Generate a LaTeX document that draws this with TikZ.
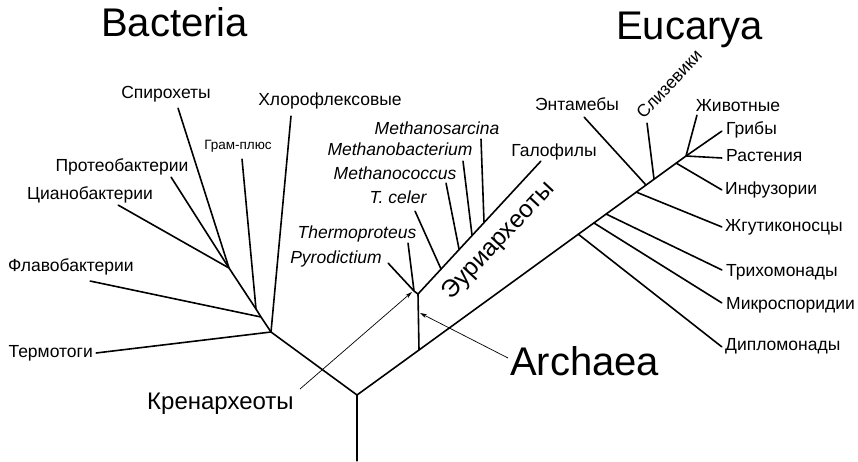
\documentclass[tikz,border=0pt]{standalone}
\usepackage{fontspec}
\setmainfont{Liberation Sans}
\usetikzlibrary{arrows.meta}

\tikzset{%
  every vertex/.style={
    inner sep=0pt,
    minimum size=0pt
  },
  branch/.style={
    line width=1.6pt,
    line cap=round
  },
  taxon/.style={
    font=\fontsize{17.5}{20}\selectfont,
    inner sep=1pt,
    text height=13pt,
    text depth=3.5pt
  },
  species/.style={
    taxon,
    font=\fontsize{17.5}{20}\selectfont\itshape
  },
  kingdom/.style={
    font=\fontsize{40}{44}\selectfont,
    inner sep=0pt,
    anchor=base west
  },
  pointer/.style={
    -{Stealth[length=7pt,width=4pt]},
    line width=0.7pt
  },
}

\begin{document}
\begin{tikzpicture}[x=1pt,y=-1pt]
  \useasboundingbox (0,0) rectangle (858,461);
  % domains
  \node [kingdom] (BACT) at (101,36) {Bacteria};
  \node [kingdom] (EUCA) at (616,39) {Eucarya};
  \node [kingdom] (ARCH) at (510,375) {Archaea};
  \node [kingdom, font=\fontsize{24}{28}\selectfont] (KREN) at (147,409) {Кренархеоты};
  % root
  \node [every vertex] (r-0) at (357,461) {};
  \node [every vertex] (r-1) at (357,395) {};
  % bacteria
  \node [every vertex] (b-1) at (271,332) {};
  \node [every vertex] (b-2) at (261,317) {};
  \node [every vertex] (b-3) at (256,309) {};
  \node [every vertex] (b-4) at (229,268) {};
  \node [every vertex] (b-5) at (96,353) {};
  \node [every vertex] (b-6) at (90,281) {};
  \node [every vertex] (b-7) at (242,159) {};
  \node [every vertex] (b-8) at (291,116) {};
  \node [every vertex] (b-9) at (178,108) {};
  \node [every vertex] (b-10) at (171,177) {};
  \node [every vertex] (b-11) at (118,205) {};
  \node [taxon, anchor=east] (TERMO) at (94,353) {Термотоги};
  \node [taxon] (FLAVO) at (71,267) {Флавобактерии};
  \node [taxon] (CYANO) at (90,195) {Цианобактерии};
  \node [taxon] (PROTEO) at (122,167) {Протеобактерии};
  \node [taxon] (SPIRO) at (166,94) {Спирохеты};
  \node [taxon, font=\fontsize{13.5}{16}\selectfont] (GRAM) at (238,145) {Грам-плюс};
  \node [taxon] (CHLORO) at (330,101) {Хлорофлексовые};
  % archaea
  \node [every vertex] (a-1) at (419,350) {};
  \node [every vertex] (a-2) at (418,294) {};
  \node [every vertex] (a-3) at (414,291) {};
  \node [every vertex] (a-4) at (388,263) {};
  \node [every vertex] (a-5) at (408,243) {};
  \node [every vertex] (a-6) at (441,269) {};
  \node [every vertex] (a-7) at (415,211) {};
  \node [every vertex] (a-8) at (459,249) {};
  \node [every vertex] (a-9) at (446,183) {};
  \node [every vertex] (a-10) at (472,235) {};
  \node [every vertex] (a-11) at (463,161) {};
  \node [every vertex] (a-12) at (484,222) {};
  \node [every vertex] (a-13) at (481,139) {};
  \node [every vertex] (a-14) at (541,161) {};
  \node [species] (SARC) at (437,130) {Methanosarcina};
  \node [species] (MBAC) at (400,151) {Methanobacterium};
  \node [species] (MCOC) at (395,175) {Methanococcus};
  \node [species] (CELER) at (398,199) {T. celer};
  \node [species] (TPROT) at (357,234) {Thermoproteus};
  \node [species] (PYRO) at (336,259) {Pyrodictium};
  \node [taxon] (HALO) at (554,152) {Галофилы};
  \node [taxon, font=\fontsize{24.5}{28}\selectfont, text height=17pt, text depth=5pt, rotate=47] (EURY) at (499,241) {Эуриархеоты};
  % eucarya
  \node [every vertex] (e-1) at (578,234) {};
  \node [every vertex] (e-2) at (594,223) {};
  \node [every vertex] (e-3) at (606,214) {};
  \node [every vertex] (e-4) at (636,192) {};
  \node [every vertex] (e-5) at (646,185) {};
  \node [every vertex] (e-6) at (654,179) {};
  \node [every vertex] (e-7) at (676,163) {};
  \node [every vertex] (e-8) at (686,156) {};
  \node [every vertex] (e-9) at (722,347) {};
  \node [every vertex] (e-10) at (722,303) {};
  \node [every vertex] (e-11) at (722,270) {};
  \node [every vertex] (e-12) at (722,227) {};
  \node [every vertex] (e-13) at (584,117) {};
  \node [every vertex] (e-14) at (647,123) {};
  \node [every vertex] (e-15) at (722,190) {};
  \node [every vertex] (e-16) at (697,115) {};
  \node [every vertex] (e-17) at (722,131) {};
  \node [every vertex] (e-18) at (722,158) {};
  \node [taxon] (ENTA) at (577,106) {Энтамебы};
  \node [taxon, rotate=47] (SLIZ) at (670,85) {Слизевики};
  \node [taxon] (ZHIV) at (738,107) {Животные};
  \node [taxon, anchor=west] (GRIB) at (725,130) {Грибы};
  \node [taxon, anchor=west] (RAST) at (725,157) {Растения};
  \node [taxon, anchor=west] (INFU) at (724,190) {Инфузории};
  \node [taxon, anchor=west] (ZHGU) at (724,227) {Жгутиконосцы};
  \node [taxon, anchor=west] (TRIH) at (725,272) {Трихомонады};
  \node [taxon, anchor=west] (MIKR) at (725,305) {Микроспоридии};
  \node [taxon, anchor=west] (DIPL) at (724,346) {Дипломонады};
  \coordinate (kren-tail) at (300,389);
  \coordinate (kren-tip) at (412,292);
  \coordinate (arch-tail) at (508,358);
  \coordinate (arch-tip) at (420,313);
\draw [branch] (r-0) -- (r-1);
\draw [branch] (r-1) -- (b-1);
\draw [branch] (b-1) -- (b-5);
\draw [branch] (b-1) -- (b-2) -- (b-3) -- (b-4);
\draw [branch] (b-2) -- (b-6);
\draw [branch] (b-3) -- (b-7);
\draw [branch] (b-1) -- (b-8);
\draw [branch] (b-4) -- (b-9);
\draw [branch] (b-4) -- (b-10);
\draw [branch] (b-4) -- (b-11);
\draw [branch] (r-1) -- (a-1) -- (e-8);
\draw [branch] (a-1) -- (a-2) -- (a-3);
\draw [branch] (a-3) -- (a-4);
\draw [branch] (a-3) -- (a-5);
\draw [branch] (a-2) -- (a-14);
\draw [branch] (a-6) -- (a-7);
\draw [branch] (a-8) -- (a-9);
\draw [branch] (a-10) -- (a-11);
\draw [branch] (a-12) -- (a-13);
\draw [branch] (e-1) -- (e-9);
\draw [branch] (e-2) -- (e-10);
\draw [branch] (e-3) -- (e-11);
\draw [branch] (e-4) -- (e-12);
\draw [branch] (e-5) -- (e-13);
\draw [branch] (e-6) -- (e-14);
\draw [branch] (e-7) -- (e-15);
\draw [branch] (e-8) -- (e-16);
\draw [branch] (e-8) -- (e-17);
\draw [branch] (e-8) -- (e-18);
\draw [pointer] (kren-tail) -- (kren-tip);
\draw [pointer] (arch-tail) -- (arch-tip);
\end{tikzpicture}
\end{document}
